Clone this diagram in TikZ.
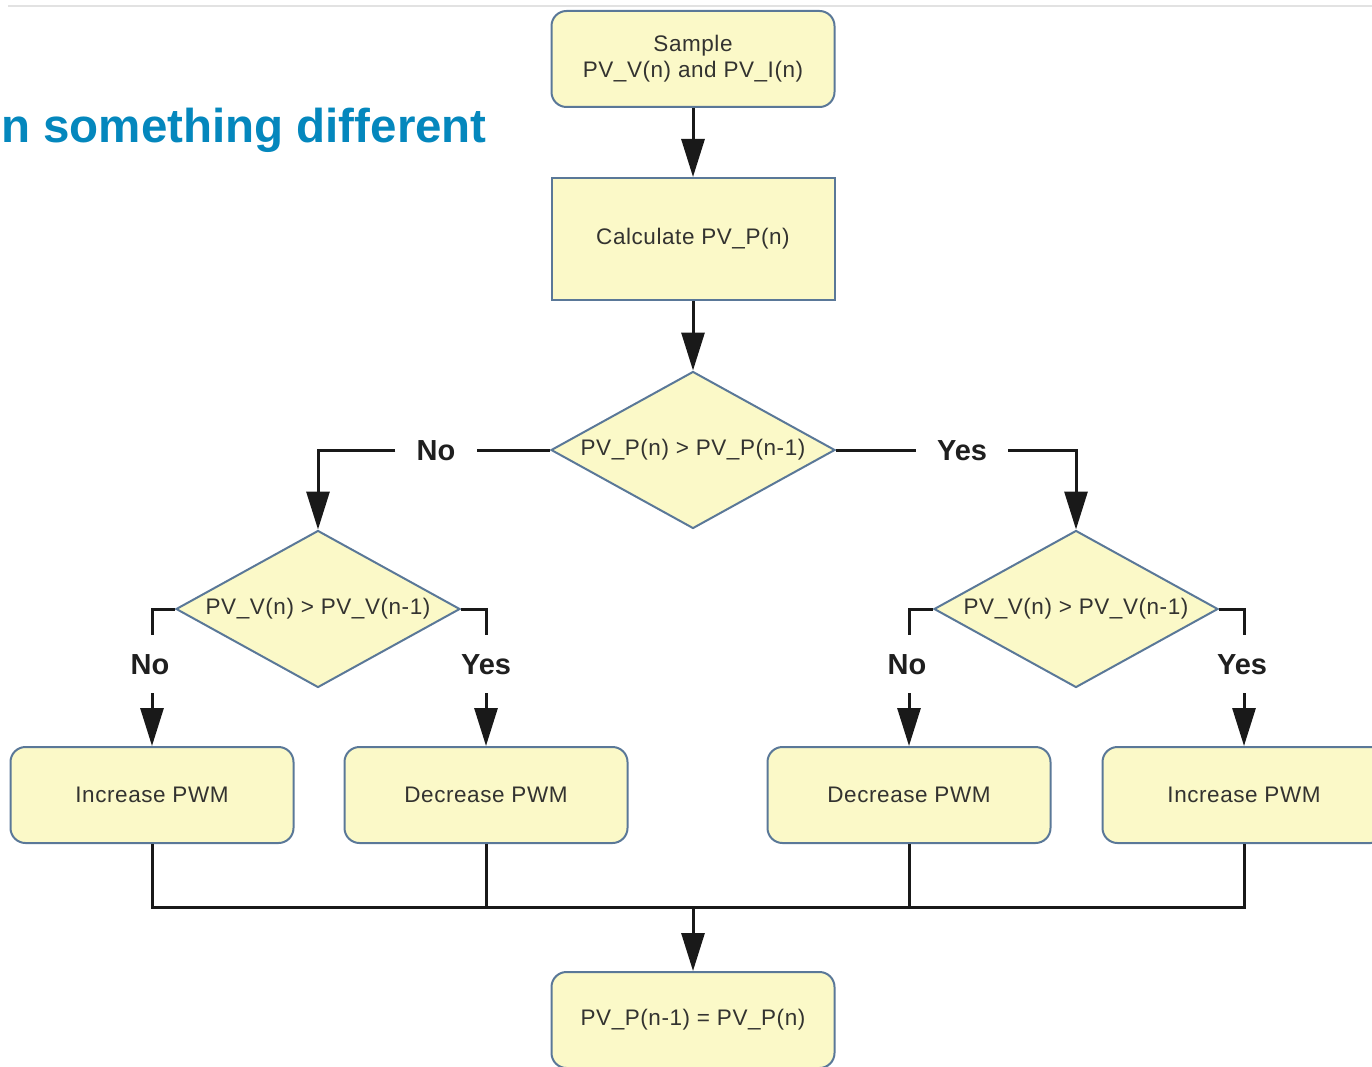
\documentclass[tikz,border=0pt]{standalone}
\usepackage{fontspec}
\setmainfont{Liberation Sans}
\usetikzlibrary{shapes.geometric,arrows.meta}
\definecolor{boxfill}{HTML}{FBF9C8}
\definecolor{boxedge}{HTML}{5A7898}
\definecolor{boxtext}{HTML}{333330}
\definecolor{titleblue}{HTML}{0487BD}
\definecolor{rulegray}{HTML}{E2E2E2}
\tikzset{
  x=1pt, y=-1pt,
  base/.style={fill=boxfill, draw=boxedge, line width=2pt, text=boxtext,
    inner sep=0pt, align=center,
    font=\fontsize{22.5}{26}\selectfont\addfontfeatures{LetterSpace=2.5}},
  roundbox/.style={base, rounded corners=15pt, minimum width=283pt, minimum height=96pt},
  plainbox/.style={base, minimum width=283pt, minimum height=122pt},
  decision/.style={base, diamond, minimum width=284pt, minimum height=157pt, aspect=1.8},
  lbl/.style={font=\fontsize{29}{34}\selectfont\bfseries, text=black!88,
    text height=21pt, text depth=0pt, inner xsep=21pt, inner ysep=18.5pt},
  line/.style={draw=black!90, line width=3pt},
  arr/.style={line, -{Triangle[width=23pt,length=38pt]}},
}
\begin{document}
\begin{tikzpicture}
\useasboundingbox (0,0) rectangle (1372,1067);
\clip (0,0) rectangle (1372,1067);

% header rule and title
\draw[rulegray, line width=2pt] (8,6) -- (1372,6);
\node[anchor=west, inner sep=0pt, text=titleblue,
  font=\fontsize{47.5}{54}\selectfont\bfseries] (title) at (1,130) {n something different};

% main column
\node[roundbox] (sample) at (693,59) {Sample\\PV\_V(n) and PV\_I(n)};
\node[plainbox] (calc) at (693,239) {Calculate PV\_P(n)};
\node[decision] (dp) at (693,450) {PV\_P(n) > PV\_P(n-1)};

% second level decisions
\node[decision] (dvl) at (318,609) {PV\_V(n) > PV\_V(n-1)};
\node[decision] (dvr) at (1076,609) {PV\_V(n) > PV\_V(n-1)};

% actions
\node[roundbox] (incl) at (152,795) {Increase PWM};
\node[roundbox] (decl) at (486,795) {Decrease PWM};
\node[roundbox] (decr) at (909,795) {Decrease PWM};
\node[roundbox] (incr) at (1244,795) {Increase PWM};

% update
\node[roundbox] (upd) at (693,1020) {PV\_P(n-1) = PV\_P(n)};

% branch labels
\node[lbl] (noA) at (436,450) {No};
\node[lbl] (yesA) at (962,450) {Yes};
\node[lbl] (noL) at (150,664) {No};
\node[lbl] (yesL) at (486,664) {Yes};
\node[lbl] (noR) at (907,664) {No};
\node[lbl] (yesR) at (1242,664) {Yes};

\coordinate (merge) at (693,907);

% connectors
\draw[arr] (sample.south) -- (sample.south |- calc.north);
\draw[arr] (calc) -- (dp);

\draw[line] (dp.west) -- (noA.east);
\draw[arr] (noA.west) -| (dvl.north);
\draw[line] (dp.east) -- (yesA.west);
\draw[arr] (yesA.east) -| (dvr.north);

\draw[line] (dvl.west) -| (noL.north -| incl.north);
\draw[arr] (noL.south -| incl.north) -- (incl.north);
\draw[line] (dvl.east) -| (yesL.north);
\draw[arr] (yesL.south) -- (decl.north);
\draw[line] (dvr.west) -| (noR.north -| decr.north);
\draw[arr] (noR.south -| decr.north) -- (decr.north);
\draw[line] (dvr.east) -| (yesR.north -| incr.north);
\draw[arr] (yesR.south -| incr.north) -- (incr.north);

\draw[line] (incl.south) -- (incl.south |- merge) -- (incr.south |- merge) -- (incr.south);
\draw[line] (decl.south) -- (decl.south |- merge);
\draw[line] (decr.south) -- (decr.south |- merge);
\draw[arr] (merge) -- (upd.north);
\end{tikzpicture}
\end{document}
